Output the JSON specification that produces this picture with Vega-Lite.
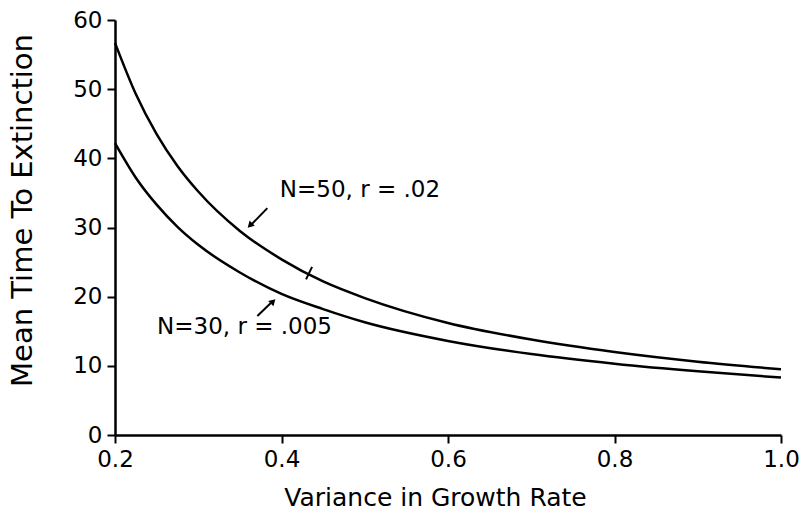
{
  "$schema": "https://vega.github.io/schema/vega-lite/v6.json",
  "autosize": {"type": "none"},
  "padding": {"left": 115, "top": 20, "right": 18, "bottom": 79},
  "width": 666,
  "height": 415,
  "background": "white",
  "config": {
    "view": {"stroke": null},
    "font": "DejaVu Sans",
    "axis": {
      "grid": false,
      "domainColor": "black",
      "domainWidth": 2.5,
      "tickColor": "black",
      "tickWidth": 2,
      "labelColor": "black",
      "titleColor": "black",
      "labelFont": "DejaVu Sans",
      "titleFont": "DejaVu Sans",
      "titleFontWeight": "normal"
    }
  },
  "datasets": {
    "curves": [
      {"series": "N=50", "v": 0.2, "t": 56.7},
      {"series": "N=50", "v": 0.225, "t": 49.3},
      {"series": "N=50", "v": 0.25, "t": 43.5},
      {"series": "N=50", "v": 0.275, "t": 38.9},
      {"series": "N=50", "v": 0.3, "t": 35.2},
      {"series": "N=50", "v": 0.35, "t": 29.5},
      {"series": "N=50", "v": 0.4, "t": 25.4},
      {"series": "N=50", "v": 0.45, "t": 22.2},
      {"series": "N=50", "v": 0.5, "t": 19.8},
      {"series": "N=50", "v": 0.6, "t": 16.2},
      {"series": "N=50", "v": 0.7, "t": 13.8},
      {"series": "N=50", "v": 0.8, "t": 12.0},
      {"series": "N=50", "v": 0.9, "t": 10.6},
      {"series": "N=50", "v": 1.0, "t": 9.5},
      {"series": "N=30", "v": 0.2, "t": 42.2},
      {"series": "N=30", "v": 0.225, "t": 37.2},
      {"series": "N=30", "v": 0.25, "t": 33.3},
      {"series": "N=30", "v": 0.275, "t": 30.1},
      {"series": "N=30", "v": 0.3, "t": 27.5},
      {"series": "N=30", "v": 0.35, "t": 23.5},
      {"series": "N=30", "v": 0.4, "t": 20.4},
      {"series": "N=30", "v": 0.45, "t": 18.2},
      {"series": "N=30", "v": 0.5, "t": 16.3},
      {"series": "N=30", "v": 0.6, "t": 13.6},
      {"series": "N=30", "v": 0.7, "t": 11.7},
      {"series": "N=30", "v": 0.8, "t": 10.3},
      {"series": "N=30", "v": 0.9, "t": 9.2},
      {"series": "N=30", "v": 1.0, "t": 8.3}
    ],
    "segments": [
      {"v": 0.383, "t": 32.8, "v2": 0.362, "t2": 30.2},
      {"v": 0.371, "t": 17.2, "v2": 0.390, "t2": 19.4},
      {"v": 0.4295, "t": 22.5, "v2": 0.4367, "t2": 24.3}
    ],
    "heads": [
      {"v": 0.363, "t": 30.4, "angle": 225},
      {"v": 0.389, "t": 19.2, "angle": 45}
    ],
    "labels": [
      {"v": 0.398, "t": 35.4, "text": "N=50, r = .02"},
      {"v": 0.2505, "t": 15.6, "text": "N=30, r = .005"}
    ]
  },
  "layer": [
    {
      "data": {"name": "curves"},
      "mark": {"type": "line", "interpolate": "monotone", "color": "black", "strokeWidth": 2.5},
      "encoding": {
        "x": {
          "field": "v", "type": "quantitative",
          "scale": {"domain": [0.2, 1.0], "nice": false, "zero": false},
          "axis": {
            "title": "Variance in Growth Rate",
            "values": [0.2, 0.4, 0.6, 0.8, 1.0],
            "format": ".1f",
            "labelFontSize": 23,
            "labelFlush": false,
            "tickSize": 8,
            "labelPadding": 5,
            "titleFontSize": 25,
            "titleX": 320,
            "titleY": 62,
            "titleBaseline": "middle",
            "titleAlign": "center",
            "encode": {"ticks": {"update": {"y": {"value": -8}, "y2": {"value": 8}}}}
          }
        },
        "y": {
          "field": "t", "type": "quantitative",
          "scale": {"domain": [0, 60], "nice": false},
          "axis": {
            "title": "Mean Time To Extinction",
            "values": [0, 10, 20, 30, 40, 50, 60],
            "labelFontSize": 23,
            "labelFlush": false,
            "tickSize": 8,
            "labelPadding": 5,
            "titleFontSize": 29,
            "titleX": -93,
            "titleY": 190,
            "titleAngle": -90,
            "titleBaseline": "middle",
            "titleAlign": "center",
            "encode": {"ticks": {"update": {"x": {"value": 8}, "x2": {"value": -8}}}}
          }
        },
        "detail": {"field": "series", "type": "nominal"}
      }
    },
    {
      "data": {"name": "segments"},
      "mark": {"type": "rule", "color": "black", "strokeWidth": 2},
      "encoding": {
        "x": {"field": "v", "type": "quantitative"},
        "y": {"field": "t", "type": "quantitative"},
        "x2": {"field": "v2"},
        "y2": {"field": "t2"}
      }
    },
    {
      "data": {"name": "heads"},
      "mark": {"type": "point", "shape": "triangle", "filled": true, "color": "black", "size": 55, "opacity": 1},
      "encoding": {
        "x": {"field": "v", "type": "quantitative"},
        "y": {"field": "t", "type": "quantitative"},
        "angle": {"field": "angle", "type": "quantitative", "scale": null}
      }
    },
    {
      "data": {"name": "labels"},
      "mark": {"type": "text", "align": "left", "baseline": "middle", "fontSize": 23, "font": "DejaVu Sans", "color": "black"},
      "encoding": {
        "x": {"field": "v", "type": "quantitative"},
        "y": {"field": "t", "type": "quantitative"},
        "text": {"field": "text"}
      }
    }
  ]
}
